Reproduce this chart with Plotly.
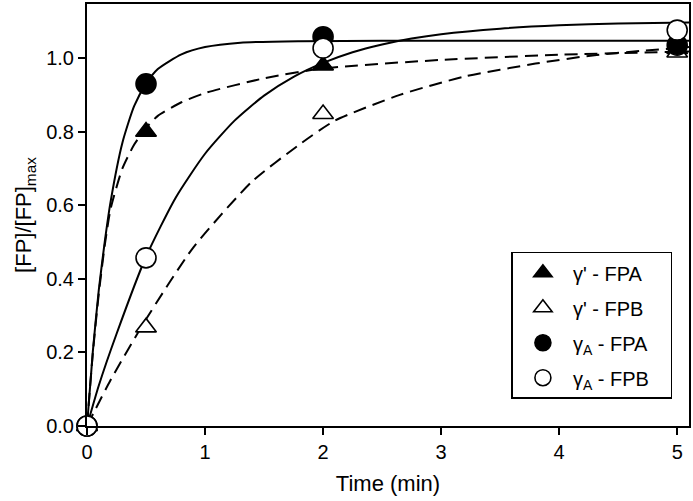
import plotly.graph_objects as go

# measured points
t_obs = [0, 0.5, 2, 5]
g1_fpa = [0, 0.80, 0.98, 1.025]   # gamma' - FPA (filled triangle)
g1_fpb = [0, 0.268, 0.848, 1.015]  # gamma' - FPB (open triangle)
ga_fpa = [0, 0.93, 1.058, 1.035]  # gammaA - FPA (filled circle)
ga_fpb = [0, 0.457, 1.027, 1.076]  # gammaA - FPB (open circle)

# fitted curves
fit_ga_fpa_t = [0, 0.05, 0.1, 0.15, 0.2, 0.3, 0.4, 0.5, 0.6, 0.8, 1.0, 1.3, 1.8, 2.5, 5.1]
fit_ga_fpa_y = [0, 0.205, 0.37, 0.50, 0.61, 0.77, 0.87, 0.93, 0.97, 1.01, 1.03, 1.042, 1.046, 1.047, 1.047]

fit_ga_fpb_t = [0, 0.1, 0.25, 0.5, 0.75, 1.0, 1.25, 1.5, 1.75, 2.0, 2.25, 2.5, 2.75, 3.0, 3.5, 4.0, 4.5, 5.1]
fit_ga_fpb_y = [0, 0.11, 0.25, 0.46, 0.62, 0.74, 0.83, 0.898, 0.949, 0.987, 1.016, 1.037, 1.053, 1.065, 1.08, 1.089, 1.094, 1.097]

fit_g1_fpa_t = [0, 0.05, 0.1, 0.15, 0.2, 0.3, 0.4, 0.5, 0.6, 0.8, 1.0, 1.5, 2.0, 3.0, 4.0, 5.1]
fit_g1_fpa_y = [0, 0.2, 0.36, 0.49, 0.59, 0.70, 0.765, 0.81, 0.843, 0.88, 0.905, 0.945, 0.972, 0.995, 1.009, 1.018]

fit_g1_fpb_t = [0, 0.2, 0.5, 0.9, 1.4, 1.8, 2.1, 2.65, 3.2, 3.8, 4.3, 5.1]
fit_g1_fpb_y = [0, 0.125, 0.29, 0.485, 0.665, 0.765, 0.83, 0.90, 0.95, 0.985, 1.008, 1.03]

names = ["γ' - FPA", "γ' - FPB", "γ<sub>A</sub> - FPA", "γ<sub>A</sub> - FPB"]

FONT = "Liberation Sans, Arial, sans-serif"
fig = go.Figure()

line_solid = dict(color="black", width=2, shape="spline", smoothing=0.6)
line_dash = dict(color="black", width=2, dash="13px,7px", shape="spline", smoothing=0.6)

fig.add_trace(go.Scatter(x=fit_ga_fpa_t, y=fit_ga_fpa_y, mode="lines", line=line_solid, showlegend=False, hoverinfo="skip"))
fig.add_trace(go.Scatter(x=fit_ga_fpb_t, y=fit_ga_fpb_y, mode="lines", line=line_solid, showlegend=False, hoverinfo="skip"))
fig.add_trace(go.Scatter(x=fit_g1_fpa_t, y=fit_g1_fpa_y, mode="lines", line=line_dash, showlegend=False, hoverinfo="skip"))
fig.add_trace(go.Scatter(x=fit_g1_fpb_t, y=fit_g1_fpb_y, mode="lines", line=line_dash, showlegend=False, hoverinfo="skip"))

specs = [
    (g1_fpa, "triangle-up", "black", 18),
    (g1_fpb, "triangle-up", "white", 18),
    (ga_fpa, "circle", "black", 20),
    (ga_fpb, "circle", "white", 20),
]
for i, (ys, sym, fill, sz) in enumerate(specs):
    fig.add_trace(go.Scatter(
        x=t_obs, y=ys, mode="markers", name=names[i] + "\u00a0\u00a0\u00a0",
        legendgroup=f"g{i}",
        marker=dict(symbol=sym, size=sz, color=fill, line=dict(color="black", width=1.6)),
        cliponaxis=False,
    ))

axis_common = dict(
    showline=True, linecolor="black", linewidth=2, mirror=True,
    ticks="outside", ticklen=7, tickwidth=1.5, tickcolor="black",
    showgrid=False, zeroline=False,
    tickfont=dict(family=FONT, size=20, color="black"),
)

fig.update_layout(
    width=693, height=501,
    margin=dict(l=87, r=2, t=2, b=75),
    paper_bgcolor="white", plot_bgcolor="white",
    xaxis=dict(range=[0, 5.1], tickvals=[0, 1, 2, 3, 4, 5], ticktext=["0", "1", "2", "3", "4", "5"],
               title=dict(text="Time (min)", font=dict(family=FONT, size=22, color="black"), standoff=14),
               **axis_common),
    yaxis=dict(range=[0, 1.147], tickvals=[0, 0.2, 0.4, 0.6, 0.8, 1.0],
               ticktext=["0.0", "0.2", "0.4", "0.6", "0.8", "1.0"],
               title=dict(text="[FP]/[FP]<sub>max</sub>", font=dict(family=FONT, size=22, color="black"), standoff=8),
               **axis_common),
    legend=dict(x=0.705, y=0.413, xanchor="left", yanchor="top",
                bordercolor="black", borderwidth=1.5, bgcolor="white",
                font=dict(family=FONT, size=20, color="black"),
                traceorder="grouped", tracegroupgap=6, itemwidth=50),
    showlegend=True,
)

fig.write_html("out.html", config={"displayModeBar": False},
               post_script="document.body.style.margin='0px';")
